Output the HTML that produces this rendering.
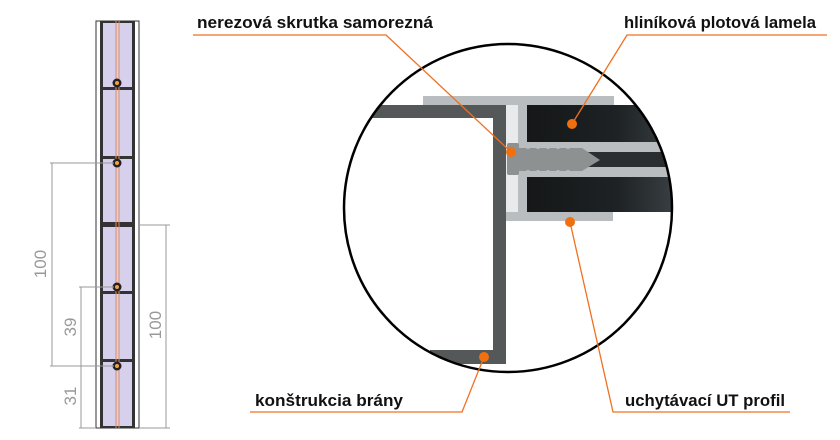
<!DOCTYPE html>
<html><head><meta charset="utf-8"><style>
html,body{margin:0;padding:0;background:#fff;width:840px;height:440px;overflow:hidden}
svg{display:block}
text{font-family:"Liberation Sans",sans-serif}
</style></head><body>
<svg width="840" height="440" viewBox="0 0 840 440" xmlns="http://www.w3.org/2000/svg">
<defs>
<clipPath id="c"><circle cx="508" cy="208" r="164"/></clipPath>
<linearGradient id="dk" x1="0" x2="1" y1="0" y2="0">
<stop offset="0" stop-color="#151718"/><stop offset="0.6" stop-color="#1e2224"/><stop offset="1" stop-color="#3a4044"/></linearGradient>
</defs>
<rect x="96" y="21" width="43" height="407" fill="#fff" stroke="#333" stroke-width="1"/>
<rect x="100" y="21" width="35" height="407" fill="#333"/>
<rect x="103" y="23" width="29" height="403" fill="#d6d0ec"/>
<g fill="#333">
<rect x="103" y="87" width="29" height="3"/>
<rect x="103" y="156" width="29" height="3"/>
<rect x="100" y="222" width="35" height="5"/>
<rect x="103" y="291" width="29" height="3"/>
<rect x="103" y="359" width="29" height="3"/>
</g>
<line x1="116" y1="21" x2="116" y2="428" stroke="#e08a5a" stroke-width="1"/>
<line x1="119" y1="21" x2="119" y2="428" stroke="#e08a5a" stroke-width="1"/>
<g fill="#222"><circle cx="117" cy="83" r="4.5"/><circle cx="117" cy="163" r="4.5"/><circle cx="117" cy="287" r="4.5"/><circle cx="117" cy="366" r="4.5"/></g>
<g fill="#f6a040"><circle cx="117" cy="83" r="2"/><circle cx="117" cy="163" r="2"/><circle cx="117" cy="287" r="2"/><circle cx="117" cy="366" r="2"/></g>
<g stroke="#999" stroke-width="1" fill="none">
<path d="M50 163H114M52 163V366M50 366H114"/>
<path d="M79 287H114M81 287V428M79 428H96"/>
<path d="M139 225H170M166 225V428M139 428H170"/>
</g>
<g fill="#999" font-size="17">
<text transform="translate(46,264) rotate(-90)" text-anchor="middle">100</text>
<text transform="translate(76,327) rotate(-90)" text-anchor="middle">39</text>
<text transform="translate(76,396) rotate(-90)" text-anchor="middle">31</text>
<text transform="translate(161,325) rotate(-90)" text-anchor="middle">100</text>
</g>
<circle cx="508" cy="208" r="164" fill="#fff"/>
<g clip-path="url(#c)">
<rect x="340" y="105" width="166" height="13" fill="#555859"/>
<rect x="493" y="105" width="13" height="259" fill="#555859"/>
<rect x="430" y="350" width="76" height="14" fill="#555859"/>
<rect x="423" y="96" width="191" height="9" fill="#b9bdbf"/>
<rect x="518" y="96" width="9" height="125" fill="#b9bdbf"/>
<rect x="506" y="212" width="107" height="9" fill="#b9bdbf"/>
<rect x="506" y="105" width="12" height="107" fill="#e8eaeb"/>
<rect x="527" y="105" width="150" height="37" fill="url(#dk)"/>
<rect x="527" y="142" width="150" height="10" fill="#b9bdbf"/>
<rect x="527" y="152" width="150" height="15" fill="#2a2e30"/>
<rect x="527" y="167" width="150" height="10" fill="#b9bdbf"/>
<rect x="527" y="177" width="150" height="35" fill="url(#dk)"/>
<rect x="507" y="143" width="12" height="32" rx="2" fill="#8e9192"/>
<path d="M519 148H582L600 160L582 171H519Z" fill="#8e9192"/>
<g fill="#b9bdbf"><circle cx="528" cy="147" r="2"/><circle cx="538" cy="147" r="2"/><circle cx="548" cy="147" r="2"/><circle cx="558" cy="147" r="2"/><circle cx="568" cy="147" r="2"/><circle cx="528" cy="172" r="2"/><circle cx="538" cy="172" r="2"/><circle cx="548" cy="172" r="2"/><circle cx="558" cy="172" r="2"/><circle cx="568" cy="172" r="2"/></g>
</g>
<circle cx="508" cy="208" r="164" fill="none" stroke="#000" stroke-width="2.5"/>
<g stroke="#f07020" stroke-width="1.3" fill="none">
<path d="M193 35H386L511 152"/>
<path d="M827 35H627L572 124"/>
<path d="M250 412H462L484 357"/>
<path d="M790 412H613L570 222"/>
</g>
<g fill="#f07010"><circle cx="511" cy="152" r="5"/><circle cx="572" cy="124" r="5"/><circle cx="484" cy="357" r="5"/><circle cx="570" cy="222" r="5"/></g>
<g font-size="17" font-weight="bold" fill="#111">
<text x="197" y="28" textLength="236" lengthAdjust="spacingAndGlyphs">nerezová skrutka samorezná</text>
<text x="624" y="28" textLength="192" lengthAdjust="spacingAndGlyphs">hliníková plotová lamela</text>
<text x="255" y="406" textLength="148" lengthAdjust="spacingAndGlyphs">konštrukcia brány</text>
<text x="625" y="406" textLength="160" lengthAdjust="spacingAndGlyphs">uchytávací UT profil</text>
</g>
</svg>
</body></html>
